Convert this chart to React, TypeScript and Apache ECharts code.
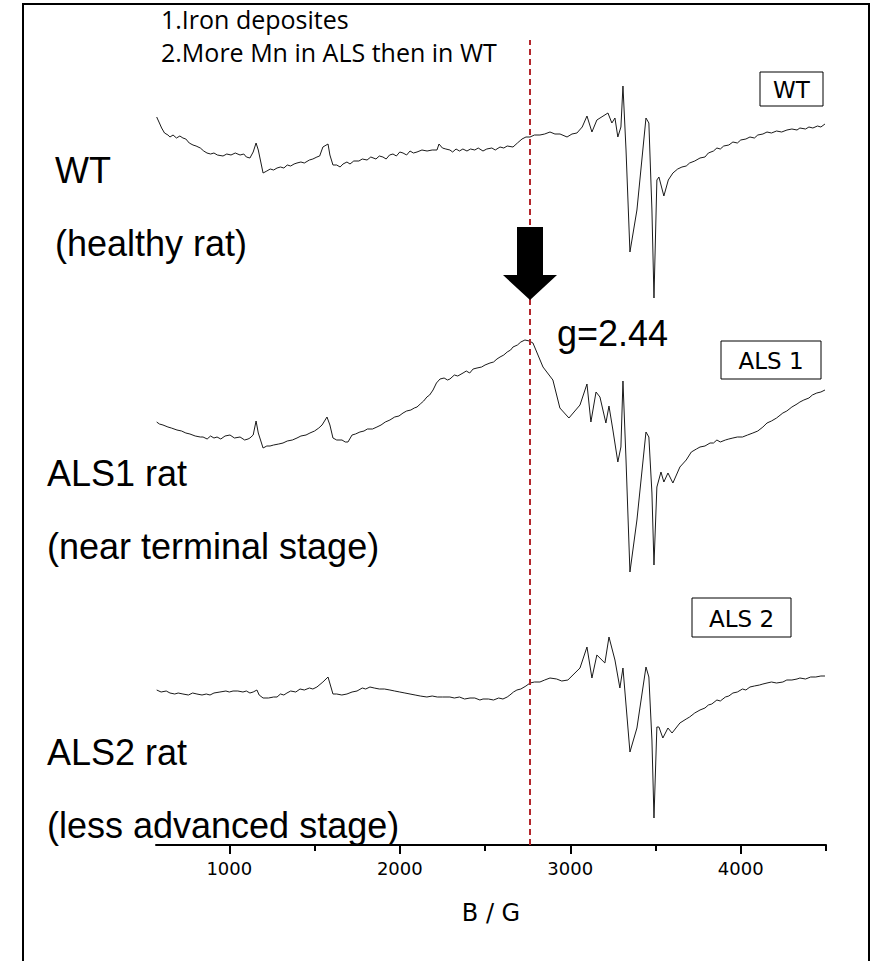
import React, { useEffect, useRef } from "react";
import * as echarts from "echarts";

// EPR spectra: [magnetic field B (G), signal height (arbitrary units, stacked offsets included)]
const wtData: [number, number][] = [
  [574, 728], [590, 722], [603, 717], [620, 712], [640, 710], [652, 708], [670, 710], [690, 707], [710, 709], [728, 707],
  [745, 706], [765, 702], [787, 700], [805, 699], [830, 697], [850, 694], [869, 692], [890, 691], [910, 692], [930, 690],
  [963, 689], [985, 691], [1010, 690], [1035, 692], [1063, 690], [1085, 691], [1100, 688], [1121, 687], [1140, 693], [1157, 702],
  [1170, 695], [1198, 672], [1220, 674], [1240, 676], [1260, 675], [1280, 677], [1300, 678], [1320, 677], [1340, 680], [1360, 679],
  [1380, 681], [1397, 682], [1420, 683], [1440, 682], [1470, 685], [1490, 686], [1514, 688], [1530, 689], [1549, 698], [1579, 701],
  [1590, 690], [1608, 680], [1630, 680], [1650, 678], [1667, 681], [1690, 683], [1708, 681], [1730, 684], [1760, 684], [1780, 686],
  [1808, 685], [1830, 688], [1860, 686], [1880, 689], [1901, 688], [1920, 686], [1940, 690], [1960, 691], [1980, 689], [2000, 693],
  [2019, 692], [2040, 690], [2060, 694], [2080, 692], [2101, 693], [2130, 695], [2160, 694], [2190, 695], [2218, 695], [2230, 701],
  [2250, 697], [2270, 696], [2294, 695], [2310, 693], [2330, 696], [2350, 694], [2370, 696], [2394, 694], [2415, 696], [2440, 695],
  [2460, 697], [2488, 694], [2510, 696], [2540, 697], [2560, 695], [2588, 698], [2610, 697], [2630, 699], [2664, 698], [2690, 702],
  [2717, 706], [2740, 708], [2764, 708], [2790, 710], [2822, 710], [2850, 711], [2881, 713], [2910, 711], [2940, 711], [2981, 708],
  [3010, 711], [3039, 712], [3070, 718], [3098, 729], [3127, 713], [3156, 725], [3221, 732], [3244, 722], [3262, 727], [3279, 708],
  [3297, 718], [3309, 759], [3327, 695], [3350, 593], [3391, 635], [3444, 727], [3461, 722], [3479, 635], [3491, 547], [3508, 665],
  [3520, 668], [3549, 649], [3575, 665], [3602, 672], [3630, 676], [3655, 678], [3680, 679], [3700, 682], [3730, 684], [3761, 687],
  [3790, 688], [3810, 692], [3840, 694], [3860, 697], [3880, 696], [3900, 699], [3930, 700], [3954, 703], [3980, 702], [4000, 705],
  [4030, 706], [4054, 708], [4080, 707], [4100, 710], [4130, 711], [4154, 713], [4180, 712], [4210, 714], [4240, 713], [4271, 715],
  [4300, 716], [4330, 715], [4347, 717], [4380, 716], [4400, 718], [4423, 717], [4450, 719], [4470, 718], [4494, 721],
];

const als1Data: [number, number][] = [
  [574, 423], [590, 421], [611, 420], [640, 418], [660, 417], [693, 415], [720, 414], [745, 412], [769, 411], [800, 409],
  [830, 408], [846, 408], [870, 406], [890, 409], [910, 407], [928, 408], [950, 406], [975, 409], [1004, 410], [1030, 407],
  [1063, 408], [1090, 405], [1110, 406], [1121, 407], [1140, 410], [1157, 424], [1170, 412], [1198, 397], [1220, 399], [1239, 399],
  [1260, 400], [1290, 401], [1315, 402], [1340, 404], [1370, 405], [1397, 407], [1420, 409], [1450, 410], [1473, 412], [1500, 414],
  [1525, 417], [1544, 420], [1573, 428], [1590, 420], [1608, 407], [1630, 405], [1661, 405], [1680, 403], [1696, 403], [1720, 410],
  [1740, 411], [1766, 413], [1790, 414], [1810, 416], [1840, 416], [1866, 418], [1890, 420], [1915, 423], [1942, 425], [1970, 428],
  [1995, 429], [2019, 432], [2040, 434], [2065, 435], [2085, 437], [2101, 438], [2120, 441], [2140, 444], [2159, 448], [2175, 450],
  [2195, 455], [2215, 462], [2236, 466], [2260, 467], [2280, 465], [2294, 466], [2320, 470], [2340, 469], [2371, 472], [2390, 474],
  [2410, 472], [2430, 476], [2453, 477], [2480, 478], [2500, 480], [2529, 482], [2550, 483], [2570, 486], [2588, 488], [2610, 490],
  [2630, 493], [2650, 495], [2664, 498], [2690, 500], [2710, 503], [2734, 505], [2760, 504], [2781, 502], [2840, 478], [2898, 465],
  [2939, 437], [2992, 427], [3057, 440], [3098, 461], [3121, 423], [3151, 453], [3174, 448], [3209, 422], [3227, 439], [3250, 415],
  [3279, 383], [3297, 398], [3309, 464], [3327, 385], [3350, 273], [3391, 325], [3444, 413], [3461, 408], [3479, 352], [3491, 280],
  [3508, 358], [3532, 373], [3549, 363], [3573, 372], [3602, 362], [3643, 378], [3680, 385], [3710, 393], [3740, 396], [3761, 398],
  [3790, 399], [3820, 402], [3840, 402], [3860, 405], [3880, 403], [3910, 405], [3930, 406], [3954, 407], [3980, 408], [4010, 408],
  [4040, 410], [4071, 412], [4100, 414], [4130, 418], [4154, 422], [4180, 424], [4210, 427], [4247, 432], [4270, 434], [4300, 438],
  [4330, 441], [4347, 443], [4370, 445], [4400, 447], [4420, 450], [4446, 452], [4470, 453], [4494, 455],
];

const als2Data: [number, number][] = [
  [574, 155], [600, 153], [630, 154], [652, 152], [680, 151], [700, 152], [728, 151], [760, 150], [785, 152], [810, 151],
  [840, 150], [865, 151], [887, 150], [910, 152], [945, 153], [980, 154], [1000, 153], [1022, 154], [1050, 154], [1080, 153],
  [1100, 154], [1121, 152], [1140, 153], [1162, 155], [1175, 150], [1198, 147], [1230, 147], [1260, 148], [1280, 148], [1300, 151],
  [1320, 150], [1338, 152], [1360, 154], [1390, 153], [1415, 156], [1440, 155], [1470, 157], [1490, 156], [1514, 158], [1549, 163],
  [1579, 168], [1608, 151], [1630, 151], [1660, 150], [1690, 151], [1720, 153], [1749, 154], [1780, 157], [1800, 156], [1825, 158],
  [1850, 157], [1880, 156], [1910, 156], [1942, 155], [1970, 154], [2000, 153], [2030, 152], [2060, 151], [2090, 150], [2120, 149],
  [2159, 148], [2190, 149], [2220, 148], [2250, 148], [2294, 148], [2320, 147], [2350, 148], [2380, 146], [2412, 147], [2440, 147],
  [2470, 145], [2488, 146], [2520, 146], [2550, 145], [2580, 147], [2605, 146], [2630, 148], [2646, 150], [2667, 153], [2687, 155],
  [2710, 156], [2740, 159], [2764, 162], [2790, 163], [2822, 163], [2850, 165], [2881, 167], [2920, 166], [2950, 164], [2986, 165],
  [3057, 177], [3098, 198], [3127, 167], [3156, 190], [3203, 182], [3227, 208], [3262, 185], [3291, 157], [3309, 177], [3350, 93],
  [3391, 117], [3444, 178], [3461, 168], [3479, 105], [3491, 27], [3508, 118], [3520, 118], [3543, 107], [3573, 117], [3597, 112],
  [3643, 122], [3680, 126], [3700, 128], [3730, 132], [3761, 135], [3790, 137], [3810, 140], [3830, 141], [3860, 145], [3880, 144],
  [3910, 148], [3930, 149], [3954, 152], [3980, 153], [4010, 156], [4030, 155], [4054, 158], [4080, 159], [4110, 160], [4130, 161],
  [4154, 162], [4180, 163], [4210, 162], [4247, 163], [4270, 165], [4300, 165], [4330, 166], [4347, 167], [4380, 166], [4410, 168],
  [4440, 168], [4470, 169], [4494, 169],
];

const xMin = 570;
const xMax = 4500;
const majorTicks = [1000, 2000, 3000, 4000];
const minorTicks = [1500, 2500, 3500, 4500];
const gLineField = 2760; // g = 2.44

const traceLabels = ["WT", "ALS 1", "ALS 2"];
const sideLabels = [
  "WT", "(healthy rat)",
  "ALS1 rat", "(near terminal stage)",
  "ALS2 rat", "(less advanced stage)",
];
const notes = ["1.Iron deposites", "2.More Mn in ALS then in WT"];
const gLabel = "g=2.44";

export default function App() {
  const ref = useRef<HTMLDivElement>(null);
  useEffect(() => {
    if (!ref.current) return;
    const chart = echarts.init(ref.current, null, { renderer: "svg" });
    const bigFont = '36px "Liberation Sans", Arial, sans-serif';
    const boxFont = '23px "DejaVu Sans", sans-serif';
    const lineStyle = { color: "#1a1a1a", width: 1 };
    const mkSeries = (name: string, data: [number, number][], extra: any = {}) => ({
      type: "line",
      name,
      data,
      showSymbol: false,
      symbol: "none",
      lineStyle,
      xAxisIndex: 0,
      yAxisIndex: 0,
      z: 3,
      ...extra,
    });
    const box = (x: number, y: number, w: number, h: number, text: string) => ({
      type: "group",
      children: [
        { type: "rect", shape: { x, y, width: w, height: h }, style: { fill: "#fff", stroke: "#000", lineWidth: 1 } },
        { type: "text", style: { text, x: x + w / 2, y: y + h / 2 + 1, font: boxFont, fill: "#000", align: "center", verticalAlign: "middle" } },
      ],
    });
    const label = (text: string, x: number, y: number, font = bigFont) => ({
      type: "text",
      style: { text, x, y, font, fill: "#000", align: "left", verticalAlign: "middle" },
    });
    chart.setOption({
      animation: false,
      backgroundColor: "#fff",
      grid: { left: 156, width: 670, top: 40, height: 805, containLabel: false },
      xAxis: [
        {
          type: "value",
          min: xMin,
          max: xMax,
          splitNumber: 8,
          position: "bottom",
          name: "B / G",
          nameLocation: "middle",
          nameGap: 56,
          nameTextStyle: { fontSize: 24, color: "#000", fontFamily: "DejaVu Sans" },
          axisLine: { show: true, lineStyle: { color: "#000", width: 2 } },
          axisTick: { show: true, customValues: majorTicks, length: 9, lineStyle: { color: "#000", width: 2 } },
          axisLabel: {
            customValues: majorTicks,
            formatter: (v: number) => String(v),
            margin: 14,
            fontSize: 18,
            color: "#000",
            fontFamily: "DejaVu Sans",
          },
          splitLine: { show: false },
        },
        {
          type: "value",
          min: xMin,
          max: xMax,
          position: "bottom",
          axisLine: { show: false },
          axisTick: { show: true, customValues: minorTicks, length: 6, lineStyle: { color: "#000", width: 2 } },
          axisLabel: { show: false },
          splitLine: { show: false },
        },
      ],
      yAxis: { type: "value", min: 0, max: 805, show: false },
      series: [
        mkSeries(traceLabels[0], wtData, {
          markLine: {
            silent: true,
            symbol: "none",
            label: { show: false },
            lineStyle: { color: "#b3262b", width: 2, type: [6, 4] },
            data: [{ xAxis: gLineField }],
          },
        }),
        mkSeries(traceLabels[1], als1Data),
        mkSeries(traceLabels[2], als2Data),
      ],
      graphic: [
        { type: "rect", shape: { x: 23, y: 4, width: 846, height: 990 }, style: { fill: "none", stroke: "#000", lineWidth: 2 }, z: 10 },
        label(notes[0], 161, 19, '25px "Open Sans", sans-serif'),
        label(notes[1], 161, 52, '25px "Open Sans", sans-serif'),
        box(760, 72, 63, 34, traceLabels[0]),
        box(721, 341, 100, 38, traceLabels[1]),
        box(692, 598, 99, 39, traceLabels[2]),
        label(sideLabels[0], 55, 170),
        label(sideLabels[1], 55, 243),
        label(sideLabels[2], 47, 473),
        label(sideLabels[3], 47, 546),
        label(sideLabels[4], 47, 752),
        label(sideLabels[5], 47, 825),
        label(gLabel, 557, 333),
        {
          type: "polygon",
          shape: { points: [[517, 227], [543, 227], [543, 275], [557, 275], [530, 300], [503, 275], [517, 275]] },
          style: { fill: "#000" },
          z: 10,
        },
      ],
    });
    return () => chart.dispose();
  }, []);
  return <div ref={ref} style={{ position: "fixed", left: 0, top: 0, width: 876, height: 961 }} />;
}
